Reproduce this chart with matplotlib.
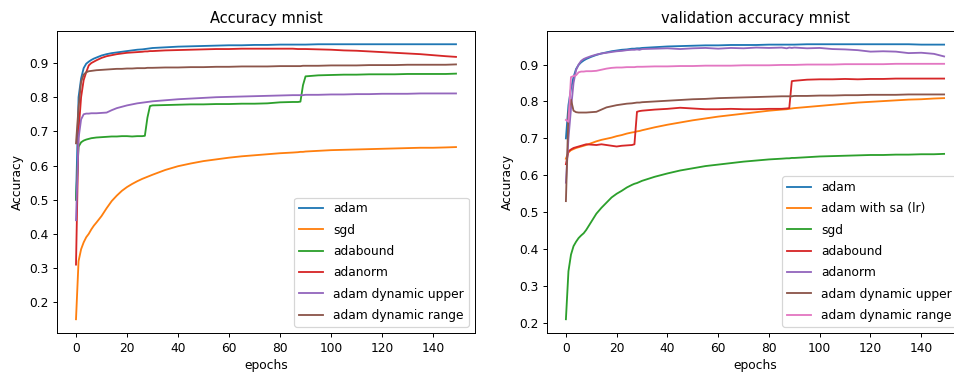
import matplotlib
matplotlib.use("Agg")
import matplotlib.pyplot as plt

# epochs at which the accuracy curves were logged
epochs = [0, 1, 2, 3, 4, 5, 6, 7, 8, 10, 12, 14, 16, 18, 20, 22, 24, 26, 27, 28, 29, 30,
          35, 40, 45, 50, 55, 60, 65, 70, 75, 80, 85, 87, 88, 89, 90, 95, 100, 105, 110,
          115, 120, 125, 130, 135, 140, 145, 149]

# training accuracy
train_adam = [0.50, 0.80, 0.855, 0.885, 0.898, 0.904, 0.909, 0.913, 0.916, 0.922, 0.926, 0.929,
              0.931, 0.933, 0.935, 0.937, 0.939, 0.940, 0.941, 0.942, 0.943, 0.944, 0.946, 0.948,
              0.949, 0.950, 0.951, 0.952, 0.952, 0.953, 0.953, 0.954, 0.954, 0.954, 0.954, 0.954,
              0.954, 0.955, 0.955, 0.955, 0.955, 0.955, 0.955, 0.955, 0.955, 0.955, 0.955, 0.955, 0.955]
train_sgd = [0.15, 0.32, 0.355, 0.375, 0.39, 0.40, 0.413, 0.424, 0.433, 0.452, 0.475, 0.496,
             0.512, 0.526, 0.537, 0.546, 0.554, 0.561, 0.564, 0.567, 0.570, 0.573, 0.587, 0.598,
             0.606, 0.613, 0.618, 0.623, 0.627, 0.630, 0.633, 0.636, 0.638, 0.639, 0.640, 0.640,
             0.641, 0.643, 0.645, 0.646, 0.647, 0.648, 0.649, 0.650, 0.651, 0.652, 0.652, 0.653, 0.654]
train_adabound = [0.50, 0.655, 0.668, 0.673, 0.676, 0.678, 0.680, 0.681, 0.682, 0.683, 0.684, 0.685,
                  0.685, 0.686, 0.686, 0.685, 0.686, 0.686, 0.687, 0.74, 0.774, 0.776, 0.777, 0.778,
                  0.779, 0.779, 0.780, 0.780, 0.781, 0.781, 0.782, 0.785, 0.786, 0.786, 0.787, 0.835,
                  0.861, 0.864, 0.865, 0.866, 0.866, 0.867, 0.867, 0.867, 0.868, 0.868, 0.868, 0.868, 0.869]
train_adanorm = [0.31, 0.70, 0.80, 0.85, 0.873, 0.893, 0.900, 0.904, 0.908, 0.915, 0.920, 0.923,
                 0.926, 0.928, 0.930, 0.931, 0.932, 0.933, 0.934, 0.934, 0.935, 0.935, 0.937, 0.938,
                 0.939, 0.940, 0.941, 0.941, 0.942, 0.942, 0.942, 0.942, 0.942, 0.941, 0.941, 0.941,
                 0.941, 0.940, 0.939, 0.937, 0.936, 0.934, 0.932, 0.930, 0.928, 0.926, 0.923, 0.920, 0.918]
train_dyn_upper = [0.44, 0.68, 0.735, 0.75, 0.752, 0.752, 0.753, 0.753, 0.753, 0.754, 0.755, 0.762,
                   0.768, 0.772, 0.776, 0.779, 0.782, 0.784, 0.785, 0.786, 0.787, 0.788, 0.791, 0.794,
                   0.796, 0.798, 0.800, 0.801, 0.802, 0.803, 0.804, 0.805, 0.806, 0.806, 0.806, 0.806,
                   0.807, 0.807, 0.808, 0.808, 0.809, 0.809, 0.810, 0.810, 0.810, 0.811, 0.811, 0.811, 0.811]
train_dyn_range = [0.665, 0.77, 0.845, 0.866, 0.873, 0.876, 0.877, 0.878, 0.879, 0.880, 0.881, 0.882,
                   0.883, 0.883, 0.884, 0.884, 0.885, 0.885, 0.885, 0.886, 0.886, 0.886, 0.887, 0.887,
                   0.888, 0.888, 0.889, 0.889, 0.890, 0.890, 0.890, 0.891, 0.891, 0.891, 0.891, 0.892,
                   0.892, 0.892, 0.893, 0.893, 0.893, 0.894, 0.894, 0.894, 0.895, 0.895, 0.895, 0.895, 0.896]

# validation accuracy
val_adam = [0.70, 0.79, 0.835, 0.866, 0.888, 0.899, 0.906, 0.911, 0.915, 0.921, 0.926, 0.930,
            0.933, 0.936, 0.938, 0.940, 0.941, 0.943, 0.943, 0.944, 0.944, 0.945, 0.947, 0.949,
            0.950, 0.951, 0.952, 0.952, 0.953, 0.953, 0.953, 0.954, 0.954, 0.954, 0.954, 0.954,
            0.954, 0.955, 0.955, 0.955, 0.955, 0.955, 0.955, 0.955, 0.955, 0.955, 0.954, 0.954, 0.954]
val_adam_sa = [0.645, 0.662, 0.668, 0.671, 0.674, 0.676, 0.678, 0.680, 0.682, 0.687, 0.692, 0.696,
               0.699, 0.702, 0.706, 0.709, 0.713, 0.716, 0.717, 0.719, 0.720, 0.722, 0.730, 0.737,
               0.743, 0.749, 0.754, 0.759, 0.763, 0.767, 0.771, 0.775, 0.778, 0.779, 0.780, 0.781,
               0.782, 0.785, 0.788, 0.791, 0.794, 0.797, 0.799, 0.801, 0.803, 0.805, 0.806, 0.808, 0.809]
val_sgd = [0.21, 0.34, 0.385, 0.408, 0.42, 0.43, 0.437, 0.443, 0.452, 0.474, 0.496, 0.512,
           0.526, 0.540, 0.550, 0.558, 0.567, 0.574, 0.577, 0.579, 0.582, 0.585, 0.596, 0.605,
           0.613, 0.619, 0.625, 0.629, 0.633, 0.637, 0.640, 0.643, 0.645, 0.646, 0.646, 0.647,
           0.647, 0.649, 0.651, 0.652, 0.653, 0.654, 0.655, 0.655, 0.656, 0.656, 0.657, 0.657, 0.658]
val_adabound = [0.63, 0.665, 0.670, 0.674, 0.676, 0.678, 0.680, 0.682, 0.684, 0.683, 0.682, 0.684,
                0.682, 0.680, 0.678, 0.680, 0.681, 0.682, 0.684, 0.772, 0.774, 0.775, 0.778, 0.780,
                0.783, 0.781, 0.779, 0.779, 0.780, 0.779, 0.779, 0.780, 0.780, 0.781, 0.782, 0.855,
                0.856, 0.859, 0.860, 0.860, 0.861, 0.860, 0.861, 0.861, 0.862, 0.862, 0.862, 0.862, 0.862]
val_adanorm = [0.58, 0.70, 0.78, 0.85, 0.885, 0.900, 0.910, 0.915, 0.918, 0.923, 0.927, 0.930,
               0.932, 0.934, 0.936, 0.937, 0.939, 0.940, 0.940, 0.941, 0.940, 0.942, 0.943, 0.944,
               0.942, 0.944, 0.945, 0.943, 0.945, 0.944, 0.946, 0.945, 0.946, 0.944, 0.946, 0.945,
               0.946, 0.944, 0.945, 0.942, 0.941, 0.939, 0.935, 0.936, 0.935, 0.931, 0.932, 0.929, 0.922]
val_dyn_upper = [0.53, 0.77, 0.805, 0.775, 0.771, 0.770, 0.770, 0.770, 0.770, 0.771, 0.772, 0.778,
                 0.784, 0.787, 0.790, 0.792, 0.794, 0.795, 0.796, 0.797, 0.797, 0.798, 0.800, 0.802,
                 0.804, 0.806, 0.807, 0.809, 0.810, 0.811, 0.812, 0.813, 0.814, 0.814, 0.814, 0.814,
                 0.815, 0.815, 0.816, 0.816, 0.817, 0.817, 0.818, 0.818, 0.818, 0.819, 0.819, 0.819, 0.819]
val_dyn_range = [0.75, 0.745, 0.866, 0.869, 0.871, 0.879, 0.881, 0.881, 0.882, 0.882, 0.883, 0.886,
                 0.889, 0.891, 0.892, 0.892, 0.893, 0.893, 0.893, 0.894, 0.894, 0.894, 0.895, 0.895,
                 0.896, 0.896, 0.897, 0.897, 0.897, 0.898, 0.898, 0.898, 0.899, 0.899, 0.899, 0.899,
                 0.899, 0.900, 0.900, 0.900, 0.901, 0.901, 0.901, 0.901, 0.902, 0.902, 0.902, 0.902, 0.902]

train_names = ['adam', 'sgd', 'adabound', 'adanorm', 'adam dynamic upper', 'adam dynamic range']
val_names = ['adam', 'adam with sa (lr)', 'sgd', 'adabound', 'adanorm',
             'adam dynamic upper', 'adam dynamic range']

dpi = 88
fig = plt.figure(figsize=(954 / dpi, 379 / dpi), dpi=dpi)
W, H = 954, 379
ax1 = fig.add_axes([57 / W, 46 / H, 418 / W, 302.5 / H])
ax2 = fig.add_axes([547 / W, 46 / H, 416 / W, 302.5 / H])

for y, name in zip([train_adam, train_sgd, train_adabound, train_adanorm,
                    train_dyn_upper, train_dyn_range], train_names):
    ax1.plot(epochs, y, label=name)
ax1.set_title('Accuracy mnist')
ax1.set_xlabel('epochs')
ax1.set_ylabel('Accuracy')
ax1.legend(loc='lower right', labelspacing=0.68)

for y, name in zip([val_adam, val_adam_sa, val_sgd, val_adabound, val_adanorm,
                    val_dyn_upper, val_dyn_range], val_names):
    ax2.plot(epochs, y, label=name)
ax2.set_title('validation accuracy mnist')
ax2.set_xlabel('epochs')
ax2.set_ylabel('Accuracy')
ax2.legend(loc='lower right', labelspacing=0.68)

fig.savefig('out.png', dpi=dpi)
